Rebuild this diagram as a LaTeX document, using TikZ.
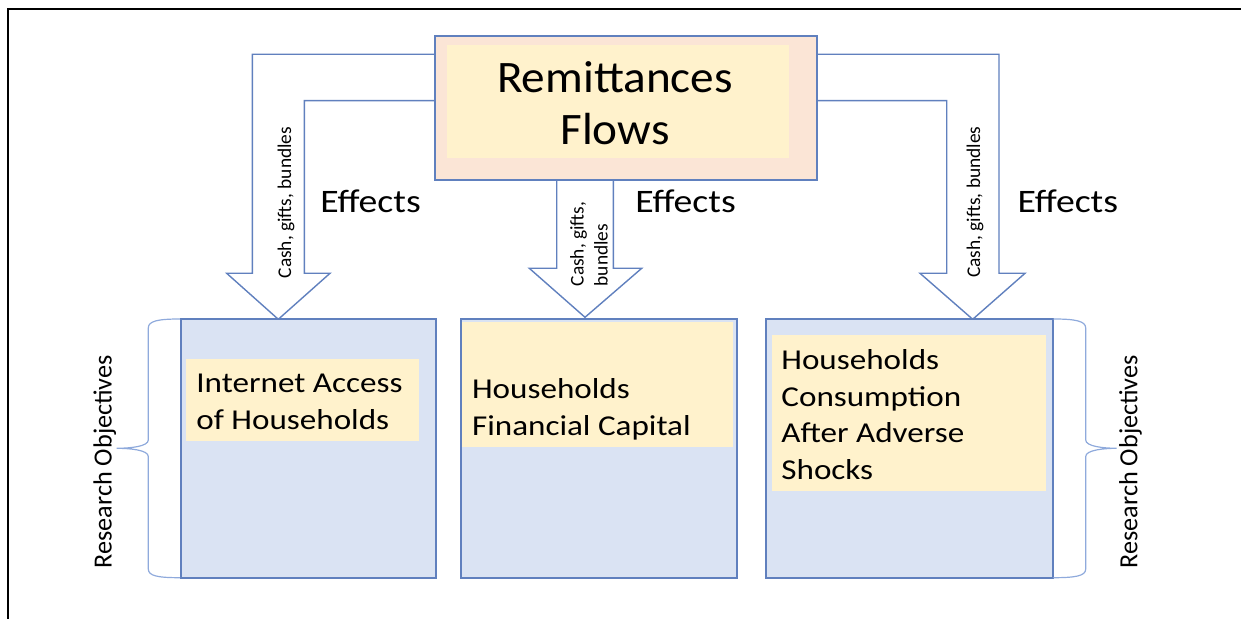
\documentclass[tikz,border=0pt]{standalone}
\usepackage{fontspec}
\setmainfont{Carlito}
\newfontfamily\hfont[FakeStretch=1.15]{Carlito}
\newfontfamily\tfont[FakeStretch=1.05]{Carlito}
\definecolor{lineblue}{RGB}{96,128,190}
\definecolor{braceblue}{RGB}{143,170,220}
\definecolor{peach}{RGB}{251,229,214}
\definecolor{lyellow}{RGB}{255,242,204}
\definecolor{lblue}{RGB}{218,227,243}
\tikzset{
  blockarrow/.style={draw=lineblue, fill=white, line width=0.7pt, line join=miter},
  outerbox/.style={draw=lineblue, line width=0.8pt, inner sep=0pt, rectangle},
  innerbox/.style={fill=lyellow, draw=none, inner sep=0pt, rectangle},
  boxtext/.style={font=\hfont\fontsize{14.4pt}{18.3pt}\selectfont, align=left, inner sep=0pt, anchor=north west},
  efftext/.style={font=\hfont\fontsize{16.4pt}{19pt}\selectfont, inner sep=0pt, anchor=base west},
  cashtext/.style={font=\fontsize{9.7pt}{12pt}\selectfont, inner sep=0pt, rotate=90},
  robjtext/.style={font=\fontsize{13.1pt}{15pt}\selectfont, inner sep=0pt, rotate=90, anchor=base},
  bracepath/.style={draw=braceblue, line width=0.6pt},
}
\begin{document}
\begin{tikzpicture}[x=0.5pt,y=-0.5pt]
\useasboundingbox (0,0) rectangle (1241,619);
% frame
\draw[line width=1pt] (8,619) -- (8,9) -- (1241,9);

% block arrows
\draw[blockarrow] (435,54.3) -- (252.3,54.3) -- (252.3,273.3) -- (226.7,273.3) -- (278.3,319.3) -- (330,273.3) -- (304.3,273.3) -- (304.3,100.7) -- (435,100.7) -- cycle;
\draw[blockarrow] (556.7,180) -- (556.7,268.3) -- (529.3,268.3) -- (585,317.3) -- (641.7,268.3) -- (613.3,268.3) -- (613.3,180) -- cycle;
\draw[blockarrow] (817,54.3) -- (999,54.3) -- (999,273.3) -- (1025,273.3) -- (972.7,319.3) -- (920,273.3) -- (946.7,273.3) -- (946.7,100.7) -- (817,100.7) -- cycle;

% top box
\node[outerbox, fill=peach, minimum width=191pt, minimum height=72pt] (top) at (626,108) {};
\node[innerbox, minimum width=171.15pt, minimum height=56.65pt] (topin) at (617.85,101.65) {};
\node[font=\tfont\fontsize{22.5pt}{25.85pt}\selectfont, align=center, inner sep=0pt, anchor=north] (toptext) at (615,61) {Remittances\\Flows};

% bottom boxes
\node[outerbox, fill=lblue, minimum width=127.5pt, minimum height=129.35pt] (lbox) at (308.5,448.35) {};
\node[innerbox, minimum width=116.5pt, minimum height=40.85pt] (lin) at (302.5,400.15) {};
\node[boxtext] (ltext) at (196,374) {Internet Access\\of Households};

\node[outerbox, fill=lblue, minimum width=138pt, minimum height=129.35pt] (mbox) at (598.7,448.35) {};
\node[innerbox, minimum width=135.8pt, minimum height=62.2pt] (min) at (597.5,384.5) {};
\node[boxtext] (mtext) at (471.7,378.3) {Households\\Financial Capital};

\node[outerbox, fill=lblue, minimum width=143.35pt, minimum height=129.35pt] (rbox) at (909.35,448.35) {};
\node[innerbox, minimum width=137.15pt, minimum height=77.85pt] (rin) at (908.85,412.85) {};
\node[boxtext] (rtext) at (781,349.3) {Households\\Consumption\\After Adverse\\Shocks};

% Effects labels
\node[efftext] (eff1) at (320,212.7) {Effects};
\node[efftext] (eff2) at (635,212.7) {Effects};
\node[efftext] (eff3) at (1017.3,212.7) {Effects};

% arrow labels
\node[cashtext, anchor=base] (cash1) at (291,202.5) {Cash, gifts, bundles};
\node[cashtext, anchor=base] (cash3) at (980,202.2) {Cash, gifts, bundles};
\node[cashtext, anchor=west, align=left] (cash2) at (589,286.7) {Cash, gifts,\\bundles};

% braces
\draw[bracepath] (180,319) .. controls (158,319) and (148.3,321) .. (148.3,328) -- (148.3,440) .. controls (148.3,446.5) and (130,448.3) .. (116.7,448.3) .. controls (130,448.3) and (148.3,450) .. (148.3,456.5) -- (148.3,569) .. controls (148.3,576) and (158,577.7) .. (180,577.7);
\draw[bracepath] (1053.3,319) .. controls (1075.3,319) and (1085.7,321) .. (1085.7,328) -- (1085.7,440) .. controls (1085.7,446.5) and (1104,448.3) .. (1116.7,448.3) .. controls (1104,448.3) and (1085.7,450) .. (1085.7,456.5) -- (1085.7,569) .. controls (1085.7,576) and (1075.3,577.7) .. (1053.3,577.7);

\node[robjtext] (ro1) at (111.7,461.7) {Research Objectives};
\node[robjtext] (ro2) at (1137.3,461.7) {Research Objectives};
\end{tikzpicture}
\end{document}
